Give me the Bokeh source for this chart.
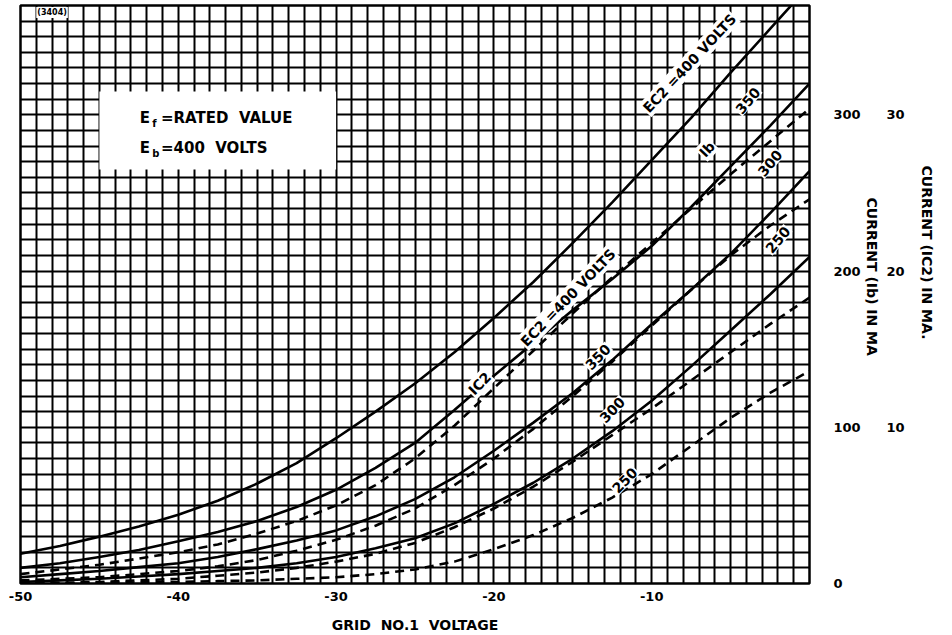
from bokeh.plotting import figure
from bokeh.models import Range1d, LinearAxis, FixedTicker, Label, Title
from bokeh.embed import file_html
from bokeh.resources import INLINE

# ---------------- data ----------------
grid_v = [-50, -47.5, -45, -42.5, -40, -37.5, -35, -32.5, -30, -27.5, -25,
          -22.5, -20, -17.5, -15, -12.5, -10, -7.5, -5, -2.5, 0]      # grid No.1 voltage (V)

# plate current Ib (mA), solid curves
ib_400 = [19, 24, 30, 36.5, 44, 53, 64, 77, 93, 110, 128, 148, 170, 193, 218, 244, 271, 298, 327, 355, 383]
ib_350 = [10, 13, 17, 21.5, 27, 33, 40, 49, 60, 74, 90, 111, 133, 154, 175, 195, 216, 241, 267, 293, 320]
ib_300 = [4, 6, 8, 10.5, 13, 17, 22, 27.5, 34, 43, 54, 68, 85, 103, 122, 143, 166, 188, 211, 237, 264]
ib_250 = [1, 2, 3, 4.5, 6, 8, 10, 13, 17, 22.5, 29, 38.5, 51, 64.5, 80, 97.5, 117, 139, 162, 185, 209]

# screen current Ic2 (mA), dashed curves
ic2_400 = [0.6, 0.9, 1.2, 1.6, 2.0, 2.5, 3.2, 4.0, 5.0, 6.3, 8.0, 10.1, 12.5, 14.9, 17.3, 19.6, 21.8, 24.0, 26.2, 28.3, 30.4]
ic2_350 = [0.2, 0.3, 0.4, 0.6, 0.8, 1.1, 1.5, 2.1, 2.8, 3.7, 4.8, 6.3, 8.0, 9.9, 12.0, 14.2, 16.5, 18.8, 21.0, 22.9, 24.6]
ic2_300 = [0.0, 0.05, 0.1, 0.2, 0.3, 0.5, 0.7, 1.0, 1.4, 1.9, 2.6, 3.6, 4.8, 6.2, 7.8, 9.5, 11.2, 13.0, 14.8, 16.6, 18.3]
ic2_250 = [0.0, 0.0, 0.05, 0.07, 0.1, 0.15, 0.2, 0.3, 0.4, 0.6, 0.9, 1.4, 2.2, 3.1, 4.2, 5.5, 7.0, 8.8, 10.6, 12.2, 13.6]

x_ticks = [-50, -40, -30, -20, -10]
x_tick_labels = ["-50", "-40", "-30", "-20", "-10"]
ib_ticks = [0, 100, 200, 300]
ib_tick_labels = ["0", "100", "200", "300"]
ic2_ticks = [10, 20, 30]
ic2_tick_labels = ["10", "20", "30"]

FONT = "DejaVu Sans"
NB = "\u00a0"

# ---------------- figure ----------------
p = figure(width=950, height=635,
           x_range=Range1d(-50, 0), y_range=Range1d(0, 370),
           y_axis_location="right",
           output_backend="svg", toolbar_location=None,
           min_border_left=20, min_border_top=5,
           min_border_right=141, min_border_bottom=52)
p.background_fill_color = "white"
p.border_fill_color = "white"
p.outline_line_color = "black"
p.outline_line_width = 2.5

# fine graph-paper grid
p.xgrid.ticker = FixedTicker(ticks=list(range(-50, 1)))
p.ygrid.ticker = FixedTicker(ticks=list(range(0, 371, 10)))
for g in (p.xgrid, p.ygrid):
    g.grid_line_color = "black"
    g.grid_line_width = 2.0
    g.grid_line_alpha = 1.0

# x axis
xa = p.xaxis[0]
xa.ticker = FixedTicker(ticks=x_ticks)
xa.major_label_overrides = dict(zip(x_ticks, x_tick_labels))
xa.axis_label = "GRID" + NB + NB + "NO.1" + NB + NB + "VOLTAGE"
xa.major_label_standoff = 8
xa.axis_label_standoff = 13

# right axis: Ib
ya = p.yaxis[0]
ya.ticker = FixedTicker(ticks=ib_ticks)
ya.major_label_overrides = dict(zip(ib_ticks, ib_tick_labels))
ya.major_label_standoff = 24


def side_title(text, offset, standoff):
    return Title(text=text, align="left", offset=offset, standoff=standoff,
                 text_font=FONT, text_font_style="bold",
                 text_font_size="14px", text_color="black")


p.add_layout(side_title("CURRENT (Ib) IN MA", 192, 0), "right")

# second right axis: Ic2
p.extra_y_ranges = {"ic2": Range1d(0, 37.0)}
ya2 = LinearAxis(y_range_name="ic2")
ya2.ticker = FixedTicker(ticks=ic2_ticks)
ya2.major_label_overrides = dict(zip(ic2_ticks, ic2_tick_labels))
ya2.major_label_standoff = 5
p.add_layout(ya2, "right")

p.add_layout(side_title("CURRENT (IC2) IN MA.", 160, 22), "right")

for ax in (xa, ya, ya2):
    ax.axis_line_color = None
    ax.major_tick_line_color = None
    ax.minor_tick_line_color = None
    ax.major_tick_out = 0
    ax.major_tick_in = 0
    ax.minor_tick_out = 0
    ax.major_label_text_font = FONT
    ax.major_label_text_font_style = "bold"
    ax.major_label_text_font_size = "13px"
    ax.major_label_text_color = "black"
    ax.axis_label_text_font = FONT
    ax.axis_label_text_font_style = "bold"
    ax.axis_label_text_font_size = "14px"
    ax.axis_label_text_color = "black"

# legend box (white patch over grid)
p.quad(left=[-45], right=[-30], bottom=[265], top=[315],
       fill_color="white", line_color=None)

# curves
LW = 2.6
for ys in (ib_400, ib_350, ib_300, ib_250):
    p.line(grid_v, ys, line_color="black", line_width=LW)
for ys in (ic2_400, ic2_350, ic2_300, ic2_250):
    p.line(grid_v, ys, line_color="black", line_width=LW,
           line_dash="9 6", y_range_name="ic2")


def add_label(x, y, text, angle=0.0, size="14px", align="center", bg=True):
    lab = Label(x=x, y=y, text=text, angle=angle,
                text_font=FONT, text_font_style="bold",
                text_font_size=size, text_color="black",
                text_align=align, text_baseline="middle")
    if bg:
        lab.background_fill_color = "white"
        lab.padding = 1
    p.add_layout(lab)


# box text
add_label(-42.45, 298.0, "E", align="left", bg=False, size="15px")
add_label(-41.65, 294.5, "f", align="left", bg=False, size="10px")
add_label(-41.1, 298.0, "=RATED" + NB + NB + "VALUE", align="left", bg=False, size="15px")
add_label(-42.45, 278.8, "E", align="left", bg=False, size="15px")
add_label(-41.65, 275.3, "b", align="left", bg=False, size="10px")
add_label(-41.1, 278.8, "=400" + NB + NB + "VOLTS", align="left", bg=False, size="15px")

# stamp
add_label(-48.0, 365.5, "(3404)", size="8px")

A = 0.80
# upper-right curve labels (Ib)
add_label(-7.6, 333, "EC2 =400 VOLTS", angle=0.82)
add_label(-6.5, 278, "Ib", angle=0.82)
add_label(-3.9, 309, "350", angle=0.87)
add_label(-2.5, 269, "300", angle=0.87)
add_label(-2.0, 220, "250", angle=0.87)

# middle curve labels (Ic2)
add_label(-20.9, 128, "IC2", angle=A)
add_label(-15.3, 183, "EC2 =400 VOLTS", angle=A)
add_label(-13.4, 145, "350", angle=A)
add_label(-12.5, 111, "300", angle=A)
add_label(-11.7, 66, "250", angle=A)

open("out.html", "w").write(file_html(p, INLINE))
